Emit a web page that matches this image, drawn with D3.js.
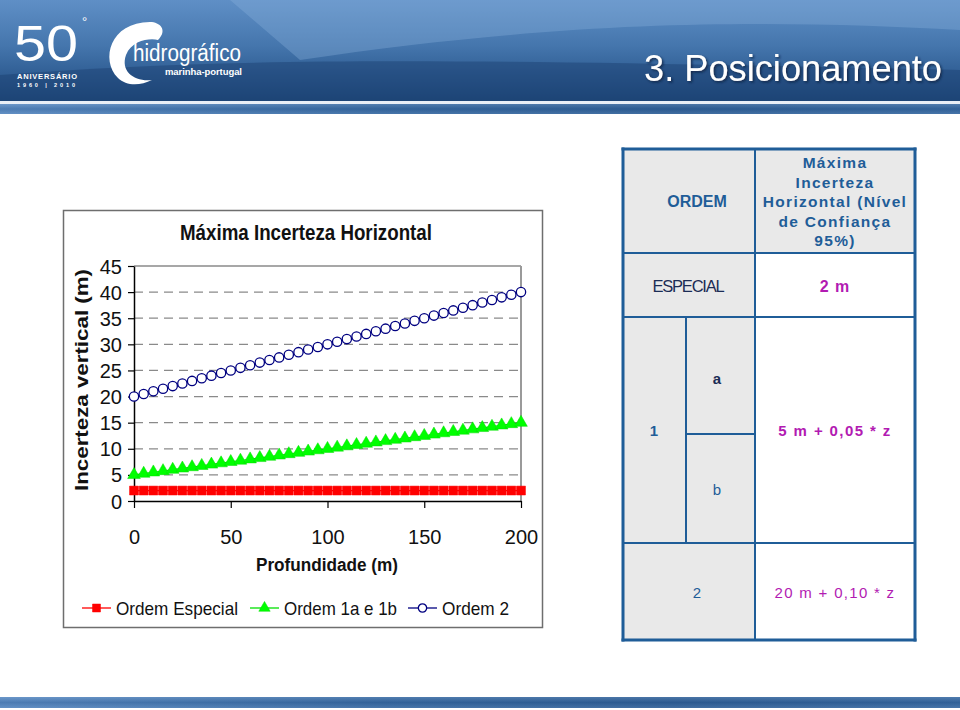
<!DOCTYPE html>
<html><head><meta charset="utf-8">
<script src="https://cdn.jsdelivr.net/npm/d3@7"></script>
<style>body{margin:0;background:#fff}svg{display:block}</style>
</head><body>
<script>
// ---- data ----
const depth = [0,5,10,15,20,25,30,35,40,45,50,55,60,65,70,75,80,85,90,95,100,105,110,115,120,125,130,135,140,145,150,155,160,165,170,175,180,185,190,195,200];
const ordemEspecial = [2,2,2,2,2,2,2,2,2,2,2,2,2,2,2,2,2,2,2,2,2,2,2,2,2,2,2,2,2,2,2,2,2,2,2,2,2,2,2,2,2];
const ordem1 = [5,5.25,5.5,5.75,6,6.25,6.5,6.75,7,7.25,7.5,7.75,8,8.25,8.5,8.75,9,9.25,9.5,9.75,10,10.25,10.5,10.75,11,11.25,11.5,11.75,12,12.25,12.5,12.75,13,13.25,13.5,13.75,14,14.25,14.5,14.75,15];
const ordem2 = [20,20.5,21,21.5,22,22.5,23,23.5,24,24.5,25,25.5,26,26.5,27,27.5,28,28.5,29,29.5,30,30.5,31,31.5,32,32.5,33,33.5,34,34.5,35,35.5,36,36.5,37,37.5,38,38.5,39,39.5,40];
const yTicks = [0,5,10,15,20,25,30,35,40,45];
const xTicks = [0,50,100,150,200];
const seriesNames = ["Ordem Especial","Ordem 1a e 1b","Ordem 2"];
const tableHeader = ["Máxima","Incerteza","Horizontal (Nível","de Confiança","95%)"];

const W=960,H=710;
const svg=d3.select("body").append("svg").attr("width",W).attr("height",H);
const defs=svg.append("defs");

// header gradient
const hg=defs.append("linearGradient").attr("id","hg").attr("x1",0).attr("y1",0).attr("x2",0).attr("y2",1);
[[0,"#5f8fc6"],[0.45,"#4576ad"],[0.75,"#2f5d93"],[1,"#1f4a7c"]].forEach(([o,c])=>hg.append("stop").attr("offset",o).attr("stop-color",c));
const sg=defs.append("linearGradient").attr("id","sg").attr("x1",0).attr("y1",0).attr("x2",1).attr("y2",0);
[[0,"#5d8cc2"],[0.4,"#2c5c92"],[0.7,"#1f4c80"],[1,"#2a5a90"]].forEach(([o,c])=>sg.append("stop").attr("offset",o).attr("stop-color",c));
const sgv=defs.append("linearGradient").attr("id","sgv").attr("x1",0).attr("y1",0).attr("x2",0).attr("y2",1);
[[0,"#7ea6d4"],[0.5,"#3a6aa2"],[1,"#6a96c8"]].forEach(([o,c])=>sgv.append("stop").attr("offset",o).attr("stop-color",c));
const sh=defs.append("filter").attr("id","sh").attr("x","-5%").attr("y","-20%").attr("width","110%").attr("height","140%");
sh.append("feDropShadow").attr("dx",1.5).attr("dy",1.5).attr("stdDeviation",1).attr("flood-color","#0a2040").attr("flood-opacity",0.8);

// header
svg.append("rect").attr("x",0).attr("y",0).attr("width",W).attr("height",101).attr("fill","url(#hg)");
svg.append("path").attr("d","M230,0 L960,0 L960,30 C800,22 600,15 300,60 Z").attr("fill","#8ab2de").attr("opacity",0.35);
svg.append("path").attr("d","M0,75 C250,55 500,60 960,70 L960,101 L0,101 Z").attr("fill","#1a3f6e").attr("opacity",0.45);
svg.append("rect").attr("x",0).attr("y",101).attr("width",W).attr("height",3).attr("fill","#e8eef6");
svg.append("rect").attr("x",0).attr("y",104).attr("width",W).attr("height",10).attr("fill","url(#sg)");
svg.append("rect").attr("x",0).attr("y",104).attr("width",W).attr("height",10).attr("fill","url(#sgv)").attr("opacity",0.45);

// logo
const lg=svg.append("g").attr("fill","#fff").attr("font-family","Liberation Sans, Arial, sans-serif");
lg.append("text").attr("x",14).attr("y",61).attr("font-size",50).attr("font-weight",300).attr("textLength",64).attr("lengthAdjust","spacingAndGlyphs").text("50");
lg.append("text").attr("x",82).attr("y",26).attr("font-size",13).text("°");
lg.append("text").attr("x",17).attr("y",79).attr("font-size",7.5).attr("font-weight","bold").attr("textLength",60).text("ANIVERSÁRIO");
lg.append("text").attr("x",17).attr("y",87).attr("font-size",5.5).attr("font-weight","bold").attr("textLength",60).attr("letter-spacing",2).text("1960 | 2010");
lg.append("path").attr("d","M150,22 C110,22 100,60 118,78 C126,86 140,86 152,80 C135,82 120,72 126,55 C132,40 150,38 158,40 C168,30 160,22 150,22 Z");
lg.append("text").attr("x",133).attr("y",61).attr("font-size",23).attr("textLength",108).attr("lengthAdjust","spacingAndGlyphs").text("hidrográfico");
lg.append("text").attr("x",165).attr("y",75).attr("font-size",9.5).attr("font-weight","bold").attr("textLength",77).text("marinha-portugal");

svg.append("text").attr("x",942).attr("y",81).attr("text-anchor","end").attr("fill","#fff")
  .attr("font-family","Liberation Sans, Arial, sans-serif").attr("font-size",36).attr("textLength",298).attr("lengthAdjust","spacingAndGlyphs").attr("filter","url(#sh)").text("3. Posicionamento");

// footer
svg.append("rect").attr("x",0).attr("y",697).attr("width",W).attr("height",11).attr("fill","url(#sg)");
svg.append("rect").attr("x",0).attr("y",697).attr("width",W).attr("height",11).attr("fill","url(#sgv)").attr("opacity",0.45);

// ---- chart ----
svg.append("rect").attr("x",63.5).attr("y",210.5).attr("width",479).attr("height",417).attr("fill","#fff").attr("stroke","#6e6e6e").attr("stroke-width",1.5);
const x=d3.scaleLinear().domain([0,200]).range([134,521]);
const y=d3.scaleLinear().domain([0,45]).range([501,266]);
const font="Liberation Sans, Arial, sans-serif";
const narrow="Liberation Sans Narrow, Arial Narrow, Liberation Sans, Arial, sans-serif";

svg.append("text").attr("x",306).attr("y",240).attr("text-anchor","middle").attr("font-family",narrow)
  .attr("font-weight","bold").attr("font-size",22).attr("textLength",252).attr("lengthAdjust","spacingAndGlyphs").attr("fill","#111").text("Máxima Incerteza Horizontal");

// grid
svg.append("g").selectAll("line").data(yTicks.filter(v=>v>0&&v<45)).join("line")
  .attr("x1",x(0)).attr("x2",x(200)).attr("y1",d=>y(d)).attr("y2",d=>y(d))
  .attr("stroke","#8a8a8a").attr("stroke-width",1.2).attr("stroke-dasharray","9,6");
svg.append("line").attr("x1",x(0)).attr("x2",x(200)).attr("y1",y(45)).attr("y2",y(45)).attr("stroke","#8a8a8a").attr("stroke-width",1.5);
svg.append("line").attr("x1",x(200)).attr("x2",x(200)).attr("y1",y(45)).attr("y2",y(0)).attr("stroke","#9a9a9a").attr("stroke-width",2);

// axes
const ya=svg.append("g").attr("transform",`translate(${x(0)},0)`).call(d3.axisLeft(y).tickValues(yTicks).tickSize(6).tickSizeOuter(0).tickPadding(6));
const xa=svg.append("g").attr("transform",`translate(0,${y(0)})`).call(d3.axisBottom(x).tickValues(xTicks).tickSize(7).tickSizeOuter(0).tickPadding(22));
[ya,xa].forEach(a=>{a.select(".domain").attr("stroke","#000").attr("stroke-width",1.5);
  a.selectAll(".tick line").attr("stroke","#000").attr("stroke-width",1.2);
  a.selectAll("text").attr("font-family",narrow).attr("font-size",20).attr("fill","#111");});
ya.selectAll("text").attr("dy","0.35em");

svg.append("text").attr("x",327).attr("y",571).attr("text-anchor","middle").attr("font-family",font)
  .attr("font-weight","bold").attr("font-size",18).attr("textLength",142).attr("lengthAdjust","spacingAndGlyphs").attr("fill","#111").text("Profundidade (m)");
svg.append("text").attr("transform","translate(88,380) rotate(-90)").attr("text-anchor","middle").attr("font-family",font)
  .attr("font-weight","bold").attr("font-size",19).attr("textLength",222).attr("lengthAdjust","spacingAndGlyphs").attr("fill","#111").text("Incerteza vertical (m)");

// series
const series=[
  {vals:ordemEspecial,color:"#ff0000",sym:d3.symbolSquare,fill:"#ff0000",size:80,stroke:"#ff0000"},
  {vals:ordem1,color:"#00e000",sym:d3.symbolTriangle,fill:"#00ff00",size:70,stroke:"#00dd00"},
  {vals:ordem2,color:"#000080",sym:d3.symbolCircle,fill:"#fff",size:68,stroke:"#000080"}
];
const line=d3.line().x((d,i)=>x(depth[i])).y(d=>y(d));
series.forEach(s=>{
  svg.append("path").attr("d",line(s.vals)).attr("fill","none").attr("stroke",s.color).attr("stroke-width",1.2);
  svg.append("g").selectAll("path").data(s.vals).join("path")
    .attr("transform",(d,i)=>`translate(${x(depth[i])},${y(d)})`)
    .attr("d",d3.symbol().type(s.sym).size(s.size))
    .attr("fill",s.fill).attr("stroke",s.stroke).attr("stroke-width",s.sym===d3.symbolCircle?1.3:0.5);
});

// legend
const legX=[82,250,408], legW=[122,113,67];
series.forEach((s,i)=>{
  const g=svg.append("g").attr("transform",`translate(${legX[i]},608)`);
  g.append("line").attr("x1",0).attr("x2",29).attr("stroke",s.color).attr("stroke-width",1.3);
  g.append("path").attr("transform","translate(14.5,0)").attr("d",d3.symbol().type(s.sym).size(s.size*0.8))
    .attr("fill",s.fill).attr("stroke",s.stroke).attr("stroke-width",s.sym===d3.symbolCircle?1.3:0.5);
  g.append("text").attr("x",34).attr("y",7).attr("font-family",narrow).attr("font-size",19).attr("fill","#111")
    .attr("textLength",legW[i]).attr("lengthAdjust","spacingAndGlyphs").text(seriesNames[i]);
});

// ---- table ----
const blue="#1f5d98", mag="#b21bb2", gray="#e9e9e9";
const t=svg.append("g");
t.append("rect").attr("x",623).attr("y",149).attr("width",132).attr("height",491).attr("fill",gray);
t.append("rect").attr("x",755).attr("y",149).attr("width",160).attr("height",104).attr("fill",gray);
t.append("rect").attr("x",755).attr("y",253).attr("width",160).attr("height",387).attr("fill","#fff");
const lines=[[623,149,915,149],[623,640,915,640],[623,149,623,640],[915,149,915,640],[755,149,755,640],
  [623,253,915,253],[623,317,915,317],[686,317,686,543],[686,434,755,434],[623,543,915,543]];
t.selectAll("line").data(lines).join("line").attr("x1",d=>d[0]).attr("y1",d=>d[1]).attr("x2",d=>d[2]).attr("y2",d=>d[3])
  .attr("stroke",blue).attr("stroke-width",(d,i)=>i<4?3:2).attr("stroke-linecap","square");
const tt=(xx,yy,txt,o)=>t.append("text").attr("x",xx).attr("y",yy).attr("text-anchor","middle").attr("font-family",font)
  .attr("font-size",o.size||15).attr("font-weight",o.bold?"bold":"normal").attr("fill",o.fill).attr("letter-spacing",o.ls||0).text(txt);
tt(697,207,"ORDEM",{bold:true,fill:blue,size:16});
tableHeader.forEach((s,i)=>tt(835,168+i*19.5,s,{bold:true,fill:blue,size:15.5,ls:1.3}));
tt(688,292,"ESPECIAL",{fill:"#1b2c55",size:16.5,ls:-1.2});
tt(835,292,"2 m",{bold:true,fill:mag,size:16,ls:1});
tt(717,384,"a",{bold:true,fill:"#1b2c55",size:15});
tt(654,436,"1",{bold:true,fill:blue,size:15});
tt(835,436,"5 m + 0,05 * z",{bold:true,fill:mag,size:15,ls:1.4});
tt(717,495,"b",{fill:blue,size:15});
tt(697,598,"2",{fill:blue,size:15});
tt(835,598,"20 m + 0,10 * z",{fill:mag,size:15,ls:1.3});
</script>
</body></html>
